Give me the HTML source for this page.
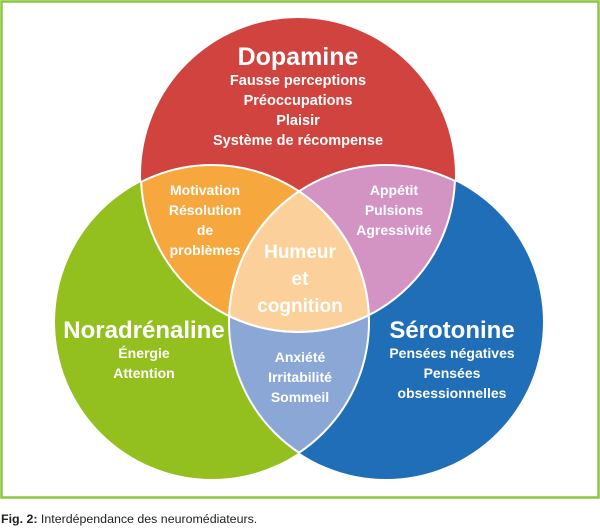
<!DOCTYPE html>
<html><head><meta charset="utf-8"><style>
html,body{margin:0;padding:0;background:#fff;}
svg{display:block;}
text{font-family:"Liberation Sans",sans-serif;font-weight:bold;fill:#fff;text-anchor:middle;}
</style></head><body>
<svg width="600" height="528" viewBox="0 0 600 528" xmlns="http://www.w3.org/2000/svg">
<defs>
<clipPath id="cr"><circle cx="298" cy="175" r="157"/></clipPath>
<clipPath id="cg"><circle cx="212" cy="322" r="157"/></clipPath>
<clipPath id="cb"><circle cx="386" cy="322" r="157"/></clipPath>
</defs>
<rect x="1.5" y="1.5" width="597" height="496" fill="#fff" stroke="#8cc63f" stroke-width="2.5"/>
<circle cx="298" cy="175" r="157" fill="#d0433f"/>
<circle cx="212" cy="322" r="157" fill="#93c01f"/>
<circle cx="386" cy="322" r="157" fill="#1f6eb7"/>
<g clip-path="url(#cr)">
<circle cx="212" cy="322" r="157" fill="#f6a83e"/>
<circle cx="386" cy="322" r="157" fill="#d394c4"/>
</g>
<g clip-path="url(#cg)"><circle cx="386" cy="322" r="157" fill="#8aa7d6"/></g>
<g clip-path="url(#cg)"><g clip-path="url(#cb)"><circle cx="298" cy="175" r="157" fill="#fcd09a"/></g></g>
<g fill="none" stroke="#fff" stroke-width="2">
<g clip-path="url(#cr)"><circle cx="212" cy="322" r="157"/><circle cx="386" cy="322" r="157"/></g>
<g clip-path="url(#cg)"><circle cx="298" cy="175" r="157"/><circle cx="386" cy="322" r="157"/></g>
<g clip-path="url(#cb)"><circle cx="298" cy="175" r="157"/><circle cx="212" cy="322" r="157"/></g>
</g>
<text x="298" y="65" font-size="25">Dopamine</text>
<text x="298" y="85" font-size="14.5">Fausse perceptions</text>
<text x="298" y="105" font-size="14.5">Préoccupations</text>
<text x="298" y="125" font-size="14.5">Plaisir</text>
<text x="298" y="145" font-size="14.5">Système de récompense</text>
<text x="205" y="195" font-size="14">Motivation</text>
<text x="205" y="215" font-size="14">Résolution</text>
<text x="205" y="235" font-size="14">de</text>
<text x="205" y="255" font-size="14">problèmes</text>
<text x="394" y="195" font-size="14">Appétit</text>
<text x="394" y="215" font-size="14">Pulsions</text>
<text x="394" y="235" font-size="14">Agressivité</text>
<text x="300" y="258" font-size="19">Humeur</text>
<text x="300" y="285" font-size="19">et</text>
<text x="300" y="312" font-size="19">cognition</text>
<text x="144" y="338" font-size="24">Noradrénaline</text>
<text x="144" y="358" font-size="14">Énergie</text>
<text x="144" y="378" font-size="14">Attention</text>
<text x="452" y="338" font-size="24">Sérotonine</text>
<text x="452" y="358" font-size="14">Pensées négatives</text>
<text x="452" y="378" font-size="14">Pensées</text>
<text x="452" y="398" font-size="14">obsessionnelles</text>
<text x="300" y="362" font-size="14">Anxiété</text>
<text x="300" y="382" font-size="14">Irritabilité</text>
<text x="300" y="402" font-size="14">Sommeil</text>
<text x="1" y="523" font-size="12.4" style="text-anchor:start;fill:#222;font-weight:normal"><tspan font-weight="bold">Fig. 2:</tspan> Interdépendance des neuromédiateurs.</text>
</svg>
</body></html>
